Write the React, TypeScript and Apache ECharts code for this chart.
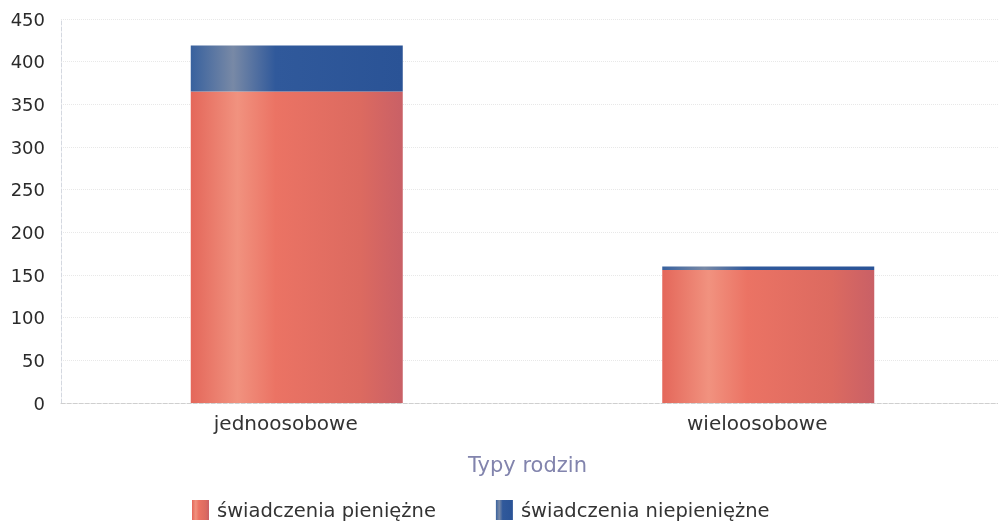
import React, { useEffect, useRef } from "react";
import * as echarts from "echarts";

const categories = ["jednoosobowe", "wieloosobowe"];
const cashBenefits = [365, 156];
const nonCashBenefits = [54, 4];
const seriesNames = ["świadczenia pieniężne", "świadczenia niepieniężne"];
const axisName = "Typy rodzin";

const FONT = "DejaVu Sans";

export default function App() {
  const ref = useRef<HTMLDivElement>(null);
  useEffect(() => {
    document.body.style.margin = "0";
    document.body.style.overflow = "hidden";
    const chart = echarts.init(ref.current!, null, { renderer: "svg" });
    const redGrad = new echarts.graphic.LinearGradient(0, 0, 1, 0, [
      { offset: 0, color: "#e4675a" },
      { offset: 0.22, color: "#f1927f" },
      { offset: 0.4, color: "#eb7364" },
      { offset: 0.8, color: "#dc6a60" },
      { offset: 1, color: "#c96066" },
    ]);
    const blueGrad = new echarts.graphic.LinearGradient(0, 0, 1, 0, [
      { offset: 0, color: "#38619e" },
      { offset: 0.2, color: "#7889a6" },
      { offset: 0.4, color: "#30599b" },
      { offset: 1, color: "#2a5396" },
    ]);
    chart.setOption({
      animation: false,
      textStyle: { fontFamily: FONT },
      grid: { left: 61, right: 0, top: 19, bottom: 122, containLabel: false },
      legend: {
        left: 187,
        top: 495,
        itemWidth: 17,
        itemHeight: 20,
        itemGap: 60,
        icon: "rect",
        textStyle: { fontFamily: FONT, fontSize: 19.5, color: "#333", padding: [0, 0, 0, 3] },
        data: seriesNames,
      },
      xAxis: {
        type: "category",
        data: categories,
        name: axisName,
        nameLocation: "middle",
        nameGap: 51,
        nameTextStyle: { fontFamily: FONT, fontSize: 21, color: "#8284ad", padding: [0, 10, 0, 0] },
        axisLine: { show: true, lineStyle: { color: "#cfcfcf", type: "dashed", width: 1 } },
        axisTick: { show: false },
        axisLabel: { fontFamily: FONT, fontSize: 20, color: "#333", margin: 10, padding: [0, 22, 0, 0] },
      },
      yAxis: {
        type: "value",
        min: 0,
        max: 450,
        interval: 50,
        axisLine: { show: true, lineStyle: { color: "#d4d8e0", type: "dashed", width: 1 } },
        axisTick: { show: false },
        axisLabel: { fontFamily: FONT, fontSize: 18, color: "#2a2a2a", margin: 16 },
        splitLine: { show: true, lineStyle: { color: "#e8e8e8", type: "dotted", width: 1 } },
      },
      series: [
        {
          name: seriesNames[0],
          type: "bar",
          stack: "total",
          barWidth: 212,
          data: cashBenefits,
          itemStyle: { color: redGrad },
        },
        {
          name: seriesNames[1],
          type: "bar",
          stack: "total",
          barWidth: 212,
          data: nonCashBenefits,
          itemStyle: { color: blueGrad },
        },
      ],
    });
    return () => chart.dispose();
  }, []);
  return <div ref={ref} style={{ position: "fixed", left: 0, top: 0, width: 1004, height: 525 }} />;
}
